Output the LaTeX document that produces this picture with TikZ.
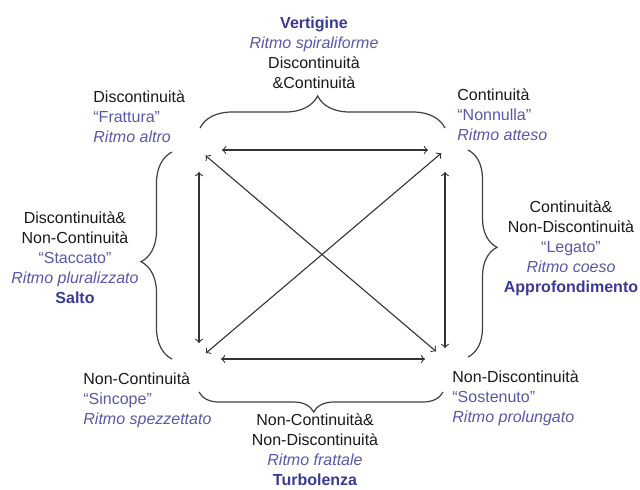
\documentclass[tikz,border=0pt]{standalone}
\usepackage{fontspec}
\setmainfont{Liberation Sans}
\usepackage{tikz}
\usetikzlibrary{decorations.pathreplacing}
\definecolor{ritmo}{RGB}{88,88,168}
\definecolor{nome}{RGB}{58,58,148}

\tikzset{
  testo/.style={font=\fontsize{8}{10}\selectfont, inner sep=0pt, text=black!90},
  freccia/.style={line width=0.55pt, black!80},
  graffa/.style 2 args={decorate, decoration={brace, amplitude=#1, aspect=#2}, line width=0.6pt, black!75},
}

\begin{document}
\begin{tikzpicture}[x=0.5pt, y=-0.5pt]
  \useasboundingbox (0,0) rectangle (640,489);

  \coordinate (TL) at (199,150);
  \coordinate (TR) at (445,150);
  \coordinate (BL) at (199,359);
  \coordinate (BR) at (445,359);

  % quattro angoli
  \node[testo, anchor=west, align=left] (fra) at (93,117) {Discontinuità\\ \textcolor{ritmo}{“Frattura”}\\ \textcolor{ritmo}{\itshape Ritmo altro}};
  \node[testo, anchor=west, align=left] (non) at (457,115) {Continuità\\ \textcolor{ritmo}{“Nonnulla”}\\ \textcolor{ritmo}{\itshape Ritmo atteso}};
  \node[testo, anchor=west, align=left] (sin) at (83,400) {Non-Continuità\\ \textcolor{ritmo}{“Sincope”}\\ \textcolor{ritmo}{\itshape Ritmo spezzettato}};
  \node[testo, anchor=west, align=left] (sos) at (452,398) {Non-Discontinuità\\ \textcolor{ritmo}{“Sostenuto”}\\ \textcolor{ritmo}{\itshape Ritmo prolungato}};

  % quattro lati
  \node[testo, align=center] (ver) at (314,53) {\textcolor{nome}{\bfseries Vertigine}\\ \textcolor{ritmo}{\itshape Ritmo spiraliforme}\\ Discontinuità\\ \&Continuità};
  \node[testo, align=center] (sal) at (75,258) {Discontinuità\&\\ Non-Continuità\\ \textcolor{ritmo}{“Staccato”}\\ \textcolor{ritmo}{\itshape Ritmo pluralizzato}\\ \textcolor{nome}{\bfseries Salto}};
  \node[testo, align=center] (app) at (571,248) {Continuità\&\\ Non-Discontinuità\\ \textcolor{ritmo}{“Legato”}\\ \textcolor{ritmo}{\itshape Ritmo coeso}\\ \textcolor{nome}{\bfseries Approfondimento}};
  \node[testo, align=center] (tur) at (315,450) {Non-Continuità\&\\ Non-Discontinuità\\ \textcolor{ritmo}{\itshape Ritmo frattale}\\ \textcolor{nome}{\bfseries Turbolenza}};

  \path[<->, freccia]
    (TL) edge[shorten <=11.5pt, shorten >=8.5pt] (TR)
    (BL) edge[shorten <=11pt, shorten >=10pt]   (BR)
    (TL) edge[shorten <=11pt, shorten >=8pt]    (BL)
    (TR) edge[shorten <=11pt, shorten >=5.5pt]  (BR)
    (TL) edge[shorten <=4.3pt, shorten >=5.9pt] (BR)
    (TR) edge[shorten <=2.5pt, shorten >=4.5pt] (BL)
  ;

  % graffe
  \draw[graffa={16pt}{0.48}]   (200,128) -- (445,128);
  \draw[graffa={10pt}{0.53}]   (443,392) -- (199,392);
  \draw[graffa={14.5pt}{0.47}] (468,150) -- (468,357);
  \draw[graffa={15.5pt}{0.47}] (172,359) -- (172,152);
\end{tikzpicture}
\end{document}
